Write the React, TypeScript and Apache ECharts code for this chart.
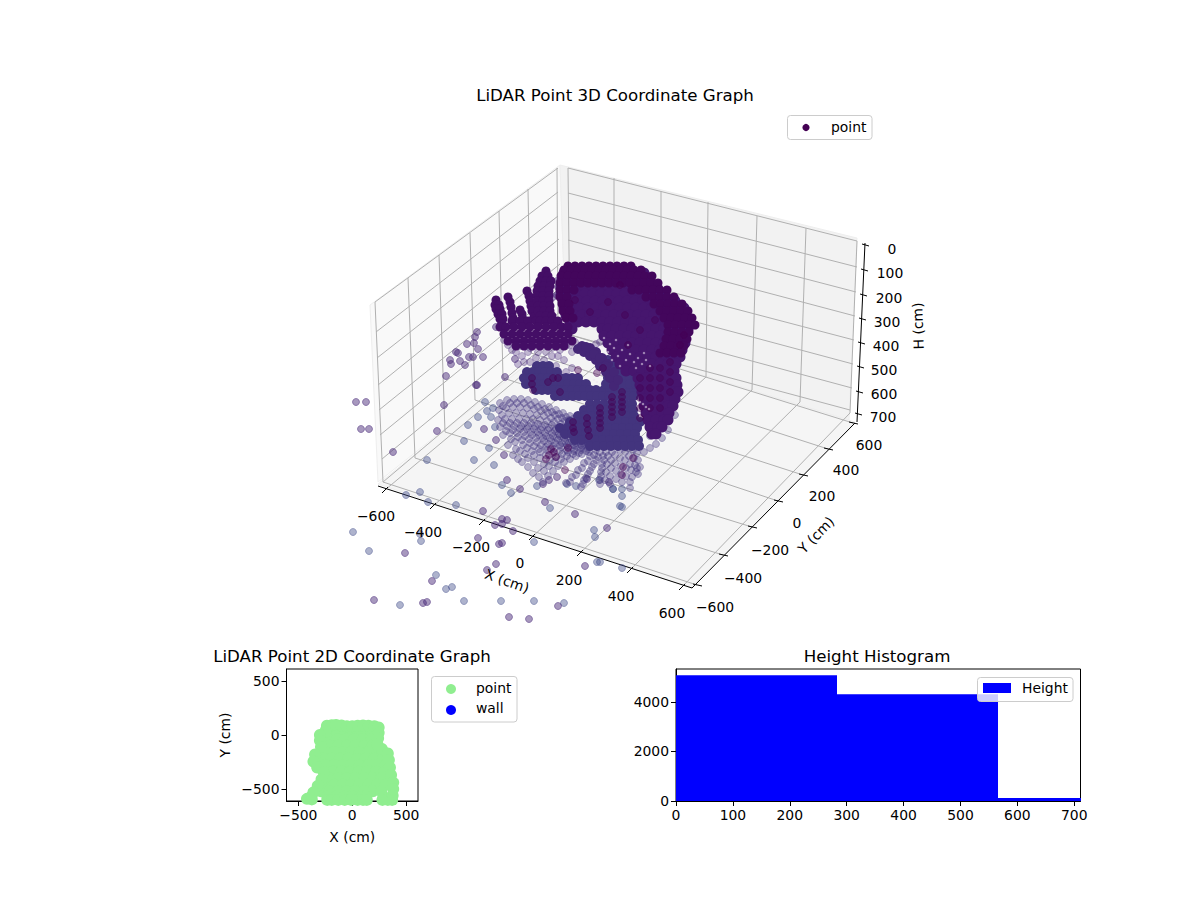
import { useEffect, useRef } from 'react';
import * as echarts from 'echarts';

const FONT = '"DejaVu Sans"';
const minus = (v: number | string) => String(v).replace('-', '\u2212');

// all 3D marks are stored as positions on the view plane
const panes = [
  [[370, 305], [560, 165], [566, 333], [378, 482]],
  [[560, 165], [857, 238], [849, 420], [566, 333]],
  [[378, 484], [566, 333], [855, 422], [692, 588]],
];
const paneColors = ['#f9f9f9', '#f2f2f2', '#f5f5f5'];

const xTicks = [-600, -400, -200, 0, 200, 400, 600];
const yTicks = [-600, -400, -200, 0, 200, 400, 600];
const hTicks = [0, 100, 200, 300, 400, 500, 600, 700];

const xOnAxis = [[385, 490], [433, 506], [482, 522], [532, 537], [580, 553], [630, 570], [682, 587]];
const xOnBack = [[570, 335], [614, 350], [661, 363], [706, 377], [752, 390], [800, 402], [850, 413]];
const xOnTop = [[568, 168], [614, 178], [661, 191], [708, 202], [757, 216], [806, 228], [857, 241]];
const yOnAxis = [[697, 585], [723, 555], [752, 527], [778, 501], [803, 475], [828, 449], [853, 423]];
const yOnLeft = [[383, 482], [415, 458], [445, 432], [475, 400], [503, 378], [531, 353], [558, 331]];
const yOnTop = [[375, 302], [408, 278], [439, 255], [470, 233], [499, 211], [528, 189], [557, 168]];
const hOnLeft = [[375, 302], [376, 332], [377, 358], [378, 385], [379, 410], [380, 435], [382, 459], [383, 482]];
const hOnCorner = [[558, 168], [558, 192], [558, 216], [559, 239], [560, 264], [560, 288], [561, 311], [562, 331]];
const hOnCornerR = [[568, 168], [568, 193], [568, 217], [568, 240], [568, 265], [569, 288], [570, 312], [570, 335]];
const hOnRight = [[857, 241], [857, 267], [856, 292], [855, 316], [854, 340], [853, 364], [852, 388], [850, 410]];
const hOnAxis = [[865, 245], [864, 270], [863, 295], [862, 319], [861, 343], [860, 367], [859, 392], [858, 414]];

const xLabelAt = [[376, 516], [423, 532], [471, 547], [520, 563], [569, 580], [621, 596], [672, 613]];
const yLabelAt = [[715, 607], [743, 578], [770, 550], [797, 523], [822, 496], [846, 470], [869, 445]];
const hLabelAt = [[892, 249], [890, 273], [889, 298], [887, 322], [886, 346], [884, 370], [884, 394], [883, 417]];

// loose points, flat x,y lists
const strayBlue = [353,532, 369,551, 421,541, 420,534, 436,575, 446,589, 452,587, 400,605, 464,601, 501,601, 534,601, 564,603, 534,542,
  456,505, 428,502, 420,492, 406,495, 597,562, 594,530, 595,537, 550,508, 511,493, 502,485, 427,460, 474,460, 494,465, 489,448, 464,441,
  468,425, 478,417, 485,402, 493,408, 487,411, 622,568, 600,562, 491,417, 495,427, 537,486, 567,484, 576,486, 599,480, 613,489, 620,506,
  622,507, 622,496, 622,489, 613,489];
const strayPurple = [405,553, 432,581, 374,600, 423,603, 427,602, 509,617, 529,619, 558,606, 487,570, 496,564, 478,538, 499,544, 502,543,
  513,531, 495,525, 502,519, 507,520, 502,524, 483,511, 585,566, 607,528, 575,514, 545,502, 520,489, 507,480, 393,452, 504,455, 437,431,
  484,429, 496,440, 444,405, 477,385, 356,402, 366,402, 361,429, 369,429, 348,421, 543,484, 549,480, 557,477, 587,479, 609,482,
  477,332, 475,337, 474,343, 467,344, 478,349, 456,352, 458,353, 460,361, 450,360, 451,364, 469,357, 473,357, 483,357, 465,365, 446,376,
  476,385, 515,359, 505,377, 557,281, 558,287, 557,295, 553,297, 560,295, 496,327];

// the fan of floor points, flat x,y lists
const fanPoints = [
  500,403, 507,400, 514,399, 521,399, 528,400, 535,402, 542,404, 549,407, 556,410, 563,413, 570,416, 577,419, 584,422,
  503,406, 510,403, 517,403, 524,403, 531,405, 538,407, 545,409, 552,412, 559,414, 566,417, 573,419, 580,421, 587,423,
  499,410, 506,408, 513,407, 520,407, 527,408, 534,409, 541,411, 548,413, 555,415, 562,418, 569,420, 576,423, 583,425,
  502,415, 509,413, 516,413, 523,413, 530,414, 537,415, 544,416, 551,418, 558,419, 565,421, 572,423, 579,425, 586,426,
  498,420, 505,419, 512,419, 519,419, 526,419, 533,419, 540,420, 547,421, 554,422, 561,424, 568,425, 575,427, 582,428,
  503,423, 510,423, 517,423, 524,423, 531,423, 538,424, 545,425, 552,425, 559,427, 566,428, 573,429, 580,430,
  500,427, 507,426, 514,426, 521,426, 528,426, 535,426, 542,427, 549,428, 556,429, 563,430, 570,431, 577,432, 584,432,
  506,431, 513,430, 520,429, 527,429, 534,429, 541,430, 548,430, 555,431, 562,432, 569,433, 576,434, 583,434,
  503,435, 510,433, 517,433, 524,432, 531,432, 538,432, 545,433, 552,433, 559,434, 566,435, 573,435, 580,436, 587,436,
  511,439, 518,437, 525,436, 532,435, 539,435, 546,436, 553,436, 560,436, 567,437, 574,437, 581,438, 588,438,
  508,445, 515,442, 522,440, 529,439, 536,438, 543,438, 550,438, 557,438, 564,438, 571,439, 578,439, 585,440,
  516,449, 523,445, 530,443, 537,442, 544,441, 551,441, 558,440, 565,441, 572,441, 579,441, 586,441,
  513,455, 520,451, 527,448, 534,446, 541,445, 548,444, 555,443, 562,443, 569,443, 576,443, 583,443, 590,443,
  518,459, 525,454, 532,451, 539,449, 546,447, 553,446, 560,445, 567,445, 574,445, 581,445, 588,444,
  522,462, 528,458, 534,455, 540,452, 547,450, 554,449, 561,447, 568,447, 575,446, 582,446, 589,446,
  528,467, 534,462, 540,458, 546,455, 553,453, 560,451, 567,450, 574,449, 581,448, 588,447,
  533,473, 538,468, 544,464, 550,460, 556,457, 562,454, 568,452, 574,451, 581,450, 588,449,
  539,477, 544,471, 549,466, 555,462, 561,459, 567,456, 573,454, 579,453, 586,451,
  543,482, 548,476, 553,471, 558,466, 564,462, 570,459, 576,456, 582,454, 589,452,
  596,450, 590,456, 584,463, 578,470, 572,477, 566,483, 594,455, 588,461, 582,468, 576,475, 570,482,
  600,452, 596,460, 592,467, 588,474, 584,480, 581,487, 598,457, 594,464, 590,471, 586,478, 583,484,
  606,452, 604,460, 602,468, 601,476, 600,484, 603,456, 602,464, 601,472, 600,480,
  612,452, 611,460, 611,468, 610,476, 610,484, 608,456, 607,464, 606,472, 605,480,
  620,450, 620,458, 621,466, 621,474, 622,482, 615,455, 615,463, 616,471, 616,479,
  628,448, 629,456, 630,464, 631,470, 632,477, 625,452, 625,460, 626,468, 626,476,
  636,445, 637,453, 638,460, 640,467, 633,450, 634,458, 635,465, 636,472, 630,482, 630,488, 637,468, 638,474,
  650,448, 656,444, 662,438, 668,430, 644,452, 650,436, 675,415,
];

// dense parts as rows: first number is the row's y, the rest its x positions
const wedgeRows = [
  [366,537,543,549],
  [372,527,533,539,545,551,557],
  [378,524,530,536,542,548,554,560,566,572,578],
  [384,526,532,538,544,550,556,562,568,574,580,586],
  [390,536,542,548,554,560,566,572,578,584,590,596,604,610,616,622,628,634],
  [396,555,561,567,573,579,585,591,597,603,609,616,622,628,634],
  [360,608,614,620,626,632],
  [366,610,616,622,628,634],
  [372,610,616,622,628,634],
  [378,608,612,618,624,630,636],
  [384,606,612,618,624,630,636],
  [404,590,597,604,611,618,625,632],
  [410,584,591,598,605,612,619,626,633],
  [416,578,585,592,599,606,613,620,627,634],
  [422,570,577,584,591,598,605,612,619,626,633,640],
  [428,560,567,574,581,588,595,602,609,616,623,630,637],
  [434,565,572,579,586,593,600,607,614,621,628,635],
  [440,575,582,589,596,603,610,617,624,631,638],
  [446,590,597,604,611,618,625,632,639],
];
const upperBand = [578,349, 584,352, 590,356, 596,360, 600,366, 606,372, 610,378, 614,386, 582,346, 590,348, 596,352, 602,358, 608,364,
  614,372, 618,380, 586,347, 594,354, 600,358, 606,366];
const middleLoose = [552,356, 544,360, 536,358, 528,352, 520,346, 512,342, 524,362, 560,350, 566,346, 572,352, 556,366, 566,372, 572,368,
  516,352, 522,356, 530,348, 538,352, 546,352, 552,348, 558,356, 564,360, 530,362, 540,366, 518,364, 512,350, 508,345, 504,340, 570,345,
  575,342, 600,342, 596,344];
const domeRows = [
  [273,564,572,580,588,596,604,612,620,628,636,644],
  [280,562,570,578,586,594,602,610,618,626,634,642,650],
  [287,561,569,577,585,593,601,609,617,625,633,641,649,657],
  [294,561,569,577,585,593,601,609,617,625,633,641,649,657,665],
  [301,563,571,579,587,595,603,611,619,627,635,643,651,659,667,675],
  [308,564,572,580,588,596,604,612,620,628,636,644,652,660,668,676,684],
  [315,566,574,582,590,598,606,614,622,630,638,646,654,662,670,678,686],
  [322,570,578,586,594,602,610,618,626,634,642,650,658,666,674,682,689],
  [329,572,602,608,616,624,632,640,648,656,664,672,680,688],
  [336,604,612,620,628,636,644,652,660,668,676,684],
  [343,608,616,624,632,640,648,656,664,672,680,685],
  [350,612,620,628,636,644,652,660,668,676,682],
  [357,616,624,632,640,648,656,664,672,680],
  [364,620,628,636,644,652,660,668,676],
  [371,626,634,642,650,658,666,674],
  [378,638,646,654,662,670,676],
  [385,640,648,656,664,672,677],
  [392,642,650,658,666,674,678],
  [399,644,652,660,668,675],
  [406,644,652,660,668,673],
  [413,646,654,662,669],
  [420,648,656,664,668],
  [427,650,658,662],
  [434,652,656],
];
const rimRows = [
  [266,568,575,582,589,596,603,610,617,624,631],
  [270,564,571,578,585,592,599,606,613,620,627,634,641],
  [276,561,568,575,582,589,596,603,610,617,624,631,638,645,652],
  [283,560,567,574,581,588,595,602,609,616,623,630,637,644,651,658],
  [290,560,567,574,632,639,646,653,660,667],
  [297,560,567,646,653,660,667,674],
  [304,562,569,654,661,668,675,682],
  [311,563,570,660,667,674,681,688],
  [318,566,573,664,671,678,685,692],
  [325,668,675,682,689,695],
  [332,668,675,682,689],
  [339,666,673,680,687],
  [346,664,671,678,684],
  [353,660,667,674,681],
];
const fingerRows = [
  [300,496], [305,495,499], [309,496,500], [314,498,502], [319,500,503], [324,502],
  [297,508], [302,510], [307,511], [313,512], [318,513],
  [310,520], [314,522], [319,523], [322,526],
  [291,527], [296,529], [301,530], [306,531], [311,532], [317,534],
  [271,546], [276,542,548], [281,540,546,551], [286,538,544,550], [291,537,543,549], [296,537,543,549], [301,537,543,549],
  [306,538,544,550], [311,538,544,550], [316,540,546,552], [321,512,520,528,536,540,546,552,558],
  [327,500,506,514,522,530,538,546,554,562,568], [334,504,512,520,528,536,544,552,560,568], [341,508,516,524,532,540,548,556,564,572],
  [346,516,524,532,540,548,556,564],
];
const darkColumns = [612,397, 612,402, 612,407, 612,412, 612,417, 622,392, 622,397, 622,402, 622,407, 622,412, 600,408, 600,413, 600,418,
  600,423, 600,428, 587,418, 587,424, 588,430, 589,436, 573,422, 573,428, 574,432, 532,378, 532,384, 533,390, 548,382, 558,378, 560,392,
  551,449, 554,452, 549,455, 556,457, 546,459, 568,448, 565,470, 623,467, 622,475, 633,458, 640,378, 640,388, 640,398, 640,408, 640,418,
  650,368, 650,378, 650,388, 650,398, 650,408, 660,368, 660,378, 660,388, 660,398, 660,408, 670,362, 670,372, 670,382, 670,392,
  597,373, 603,368, 553,378, 578,370, 680,345, 684,335, 620,285, 575,300, 608,302, 625,315, 640,330, 628,345, 590,312, 655,320];
const speckle = [604,338, 610,344, 608,352, 614,348, 618,356, 622,350, 626,360, 630,354, 634,362, 638,358, 642,364, 646,360, 650,366, 636,368,
  628,345, 616,340, 602,346, 644,353, 612,360, 620,366, 640,402, 643,404, 646,407, 649,409, 597,382, 600,384, 594,380];

// 2D panel
const blobX = [-160,-80,0,80,160, -220,-140,-60,20,100,180, -220,-140,-60,20,100,180, -210,-130,-50,30,110,190,
  -250,-170,-90,-10,70,150,230,290, -275,-195,-115,-35,45,125,205,285, -250,-170,-90,-10,70,150,230,310,
  -180,-100,-20,60,140,220,300, -210,-130,-50,30,110,190,270, -250,-170,-90,-10,70,150,230,310,
  -290,-210,-130,-50,30,110,190,270, -380,-230,-150,-70,10,90,130,290];
const blobY = [60,60,60,60,60, 20,20,20,20,20,20, -40,-40,-40,-40,-40,-40, -100,-100,-100,-100,-100,-100,
  -160,-160,-160,-160,-160,-160,-160,-160, -220,-220,-220,-220,-220,-220,-220,-220, -280,-280,-280,-280,-280,-280,-280,-280,
  -340,-340,-340,-340,-340,-340,-340, -400,-400,-400,-400,-400,-400,-400, -460,-460,-460,-460,-460,-460,-460,-460,
  -520,-520,-520,-520,-520,-520,-520,-520, -570,-570,-570,-570,-570,-570,-570,-570];
const blobEdge = [-240,55, -235,85, -190,90, -150,92, -100,88, -50,80, 0,82, 50,86, 100,88, 150,86, 205,82, 245,70,
  245,20, 240,-30, 235,-90, 275,-130, 330,-170, 340,-230, 350,-300, 360,-370, 380,-440, 380,-500, 375,-560, 370,-600, 330,-600, 280,-600,
  -250,30, -300,0, -300,-50, -290,-110, -345,-180, -360,-245, -325,-300, -265,-345, -285,-410, -320,-470, -360,-530, -420,-590, -375,-595,
  -232,-600, -190,-600, -130,-600, -70,-600, -10,-600, 50,-600, 100,-600, 135,-600];
const ticks2D = [-500, 0, 500];

// histogram
const binEdges = [0, 283, 566, 849];
const binCounts = [5066, 4302, 120];
const histXTicks = [0, 100, 200, 300, 400, 500, 600, 700];
const histYTicks = [0, 2000, 4000];

const flat = (list: number[]) => {
  const out: number[][] = [];
  for (let i = 0; i < list.length; i += 2) out.push([list[i], list[i + 1]]);
  return out;
};
const fromRows = (rows: number[][]) => rows.flatMap((r) => r.slice(1).map((x) => [x, r[0]]));

// ringed look of a see-through marker with its own edge
const cloud = (data: number[][], color: string, alpha: number, size = 7) => ({
  type: 'scatter',
  xAxisIndex: 0,
  yAxisIndex: 0,
  data,
  symbolSize: size,
  silent: true,
  itemStyle: { color: `rgba(${color},${alpha})`, borderColor: `rgba(${color},${alpha})`, borderWidth: 1, opacity: 1 },
});
// where points pile up no single marker shows any more
const solid = (data: number[][], color: string, alpha: number, size: number) => ({
  type: 'scatter',
  xAxisIndex: 0,
  yAxisIndex: 0,
  data,
  symbolSize: size,
  silent: true,
  itemStyle: { color: `rgba(${color},${alpha})`, borderWidth: 0, opacity: 1 },
});

const segmentSeries = (segs: number[][], color: string) => ({
  type: 'custom',
  xAxisIndex: 0,
  yAxisIndex: 0,
  silent: true,
  data: segs,
  renderItem: (_: any, api: any) => {
    const a = api.coord([api.value(0), api.value(1)]);
    const b = api.coord([api.value(2), api.value(3)]);
    return { type: 'line', shape: { x1: a[0], y1: a[1], x2: b[0], y2: b[1] }, style: { stroke: color, lineWidth: 1 } };
  },
});

const link = (a: number[][], b: number[][]) => a.map((p, i) => [p[0], p[1], b[i][0], b[i][1]]);

const gridSegs = [
  ...link(xOnAxis, xOnBack), ...link(xOnBack, xOnTop),
  ...link(yOnAxis, yOnLeft), ...link(yOnLeft, yOnTop),
  ...link(hOnLeft, hOnCorner), ...link(hOnCornerR, hOnRight),
];
const axisSegs = [
  [378, 486, 692, 588], [692, 588, 855, 423], [865, 243, 857, 422],
  ...xOnAxis.map((p) => [p[0] - 3, p[1] + 3, p[0] + 3, p[1] - 3]),
  ...yOnAxis.map((p) => [p[0] - 4, p[1] - 1, p[0] + 5, p[1] + 1]),
  ...hOnAxis.map((p) => [p[0] - 3, p[1] - 1, p[0] + 4, p[1] + 1]),
];

const label = (text: string, x: number, y: number, rotation = 0, align = 'center') => ({
  type: 'text',
  x,
  y,
  rotation,
  z: 50,
  silent: true,
  style: { text, fill: '#000', font: `13.9px ${FONT}`, align, verticalAlign: 'middle' },
});

const legendBox = (x: number, y: number, width: number, height: number) => ({
  type: 'rect',
  z: 40,
  silent: true,
  shape: { x, y, width, height, r: 3 },
  style: { fill: 'rgba(255,255,255,0.8)', stroke: '#cccccc', lineWidth: 1 },
});
const legendDot = (cx: number, cy: number, r: number, fill: string) => ({
  type: 'circle',
  z: 45,
  silent: true,
  shape: { cx, cy, r },
  style: { fill },
});

const options: any = {
  animation: false,
  title: [
    { text: 'LiDAR Point 3D Coordinate Graph', left: 615, top: 95 },
    { text: 'LiDAR Point 2D Coordinate Graph', left: 352, top: 656 },
    { text: 'Height Histogram', left: 877, top: 656 },
  ].map((t) => ({
    text: t.text,
    left: t.left,
    top: t.top,
    textAlign: 'center',
    textVerticalAlign: 'middle',
    padding: 0,
    textStyle: { fontFamily: FONT, fontSize: 16.67, fontWeight: 'normal', color: '#000' },
  })),
  grid: [
    { left: 350, top: 100, width: 550, height: 530 },
    { left: 286.5, top: 669, width: 131.5, height: 132, show: true, borderColor: '#000', borderWidth: 1 },
    { left: 676, top: 669, width: 404.5, height: 132, show: true, borderColor: '#000', borderWidth: 1 },
  ],
  xAxis: [
    { type: 'value', gridIndex: 0, min: 350, max: 900, show: false },
    {
      type: 'value', gridIndex: 1, min: -610, max: 610, name: 'X (cm)', nameLocation: 'middle', nameGap: 29,
      nameTextStyle: { fontFamily: FONT, fontSize: 13.9, color: '#000' },
      splitLine: { show: false },
      axisLine: { onZero: false, lineStyle: { color: '#000' } },
      axisTick: { length: 5, lineStyle: { color: '#000' }, customValues: ticks2D },
      axisLabel: { fontFamily: FONT, fontSize: 13.9, color: '#000', margin: 7, customValues: ticks2D, formatter: minus, hideOverlap: false },
    },
    {
      type: 'value', gridIndex: 2, min: 0, max: 711,
      splitLine: { show: false },
      axisLine: { onZero: false, lineStyle: { color: '#000' } },
      axisTick: { length: 5, lineStyle: { color: '#000' }, customValues: histXTicks },
      axisLabel: { fontFamily: FONT, fontSize: 13.9, color: '#000', margin: 7, customValues: histXTicks, formatter: String, hideOverlap: false },
    },
  ],
  yAxis: [
    { type: 'value', gridIndex: 0, min: 100, max: 630, inverse: true, show: false },
    {
      type: 'value', gridIndex: 1, min: -610, max: 610, name: 'Y (cm)', nameLocation: 'middle', nameGap: 55,
      nameTextStyle: { fontFamily: FONT, fontSize: 13.9, color: '#000' },
      splitLine: { show: false },
      axisLine: { onZero: false, show: true, lineStyle: { color: '#000' } },
      axisTick: { show: true, length: 5, lineStyle: { color: '#000' }, customValues: ticks2D },
      axisLabel: { fontFamily: FONT, fontSize: 13.9, color: '#000', margin: 7, customValues: ticks2D, formatter: minus, hideOverlap: false },
    },
    {
      type: 'value', gridIndex: 2, min: 0, max: 5320,
      splitLine: { show: false },
      axisLine: { onZero: false, show: true, lineStyle: { color: '#000' } },
      axisTick: { show: true, length: 5, lineStyle: { color: '#000' }, customValues: histYTicks },
      axisLabel: { fontFamily: FONT, fontSize: 13.9, color: '#000', margin: 7, customValues: histYTicks, formatter: String, hideOverlap: false },
    },
  ],
  series: [
    {
      type: 'custom',
      xAxisIndex: 0,
      yAxisIndex: 0,
      silent: true,
      data: panes.map((_, i) => [i]),
      renderItem: (_: any, api: any) => {
        const i = api.value(0);
        return {
          type: 'polygon',
          shape: { points: panes[i].map((c) => api.coord(c)) },
          style: { fill: paneColors[i], stroke: '#eeeeee', lineWidth: 1 },
        };
      },
    },
    segmentSeries(gridSegs, '#b0b0b0'),
    segmentSeries(axisSegs, '#000000'),
    cloud(flat(strayBlue), '62,74,137', 0.42),
    cloud(flat(strayPurple), '72,40,120', 0.48),
    cloud(flat(fanPoints), '66,52,128', 0.36),
    cloud(flat(middleLoose), '70,40,125', 0.32),
    solid(fromRows(wedgeRows), '67,52,126', 1, 10),
    solid(flat(upperBand), '68,38,118', 1, 10),
    solid(fromRows(domeRows), '70,22,110', 1, 11),
    solid(fromRows(fingerRows), '68,14,102', 1, 9),
    solid(fromRows(rimRows), '67,6,92', 1, 9),
    cloud(flat(darkColumns), '68,1,84', 0.42, 7),
    solid(flat(speckle), '235,225,240', 0.55, 2.5),
    {
      name: 'point',
      type: 'scatter',
      xAxisIndex: 1,
      yAxisIndex: 1,
      silent: true,
      data: [...blobX.map((x, i) => [x, blobY[i]]), ...flat(blobEdge)],
      symbolSize: 12,
      itemStyle: { color: '#90ee90', opacity: 1 },
    },
    {
      name: 'Height',
      type: 'custom',
      xAxisIndex: 2,
      yAxisIndex: 2,
      silent: true,
      clip: true,
      data: binCounts.map((c, i) => [binEdges[i], binEdges[i + 1], c]),
      renderItem: (_: any, api: any) => {
        const a = api.coord([api.value(0), api.value(2)]);
        const b = api.coord([api.value(1), 0]);
        return { type: 'rect', shape: { x: a[0], y: a[1], width: b[0] - a[0], height: b[1] - a[1] }, style: { fill: '#0000ff' } };
      },
    },
  ],
  graphic: {
    elements: [
      ...xTicks.map((v, i) => label(minus(v), xLabelAt[i][0], xLabelAt[i][1])),
      ...yTicks.map((v, i) => label(minus(v), yLabelAt[i][0], yLabelAt[i][1])),
      ...hTicks.map((v, i) => label(String(v), hLabelAt[i][0], hLabelAt[i][1])),
      label('X (cm)', 507, 581, -0.34),
      label('Y (cm)', 816, 535, 0.8),
      label('H (cm)', 918, 326, 1.6),
      legendBox(787.5, 115.5, 84.5, 24),
      legendDot(806, 127.5, 3.6, '#440154'),
      label('point', 831, 127, 0, 'left'),
      legendBox(431.5, 676.5, 85.5, 45.5),
      legendDot(451, 689, 5, '#90ee90'),
      legendDot(451, 710, 5, '#0000ff'),
      label('point', 476, 688, 0, 'left'),
      label('wall', 476, 708, 0, 'left'),
      legendBox(977.5, 677.5, 95.5, 24),
      { type: 'rect', z: 45, silent: true, shape: { x: 983, y: 683, width: 28, height: 10 }, style: { fill: '#0000ff' } },
      label('Height', 1022, 688, 0, 'left'),
    ],
  },
};

export default function App() {
  const chartRef = useRef<HTMLDivElement>(null);

  useEffect(() => {
    document.body.style.margin = '0';
    if (!chartRef.current) return;
    const chart = echarts.init(chartRef.current, null, { renderer: 'svg' });
    chart.setOption(options);
    return () => chart.dispose();
  }, []);

  return <div ref={chartRef} style={{ width: 1200, height: 900 }} />;
}
